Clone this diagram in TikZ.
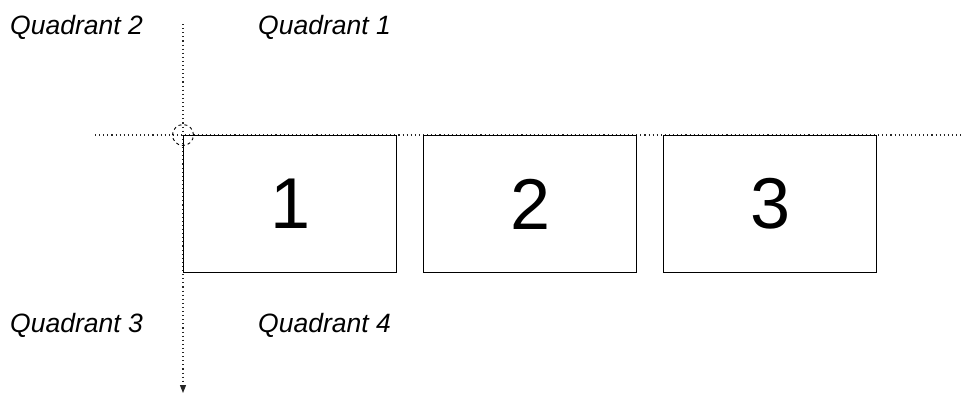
\documentclass[tikz,border=0pt]{standalone}
\usepackage{fontspec}
\setmainfont{Liberation Sans}
\usetikzlibrary{arrows.meta}
\begin{document}
\begin{tikzpicture}[x=1pt,y=-1pt,
  quad/.style={font=\fontsize{26.5}{30}\selectfont\itshape, anchor=base west, inner sep=0pt},
  panel/.style={draw, line width=1.1pt, minimum width=213pt, minimum height=137pt,
    anchor=north west, inner sep=0pt, font=\fontsize{72}{80}\selectfont},
  axis/.style={line width=1.1pt, draw=black!85, dash pattern=on 1.1pt off 3pt}]
\useasboundingbox (0,0) rectangle (963,394);

\coordinate (origin) at (183,135);
\coordinate (xleft) at (95,135);
\coordinate (xright) at (963,135);
\coordinate (ytop) at (183,24);
\coordinate (ybottom) at (183,393);

\draw[axis] (xleft) -- (xright);
\draw[axis, -{Triangle[width=6pt,length=8pt]}] (ytop) -- (ybottom);

\node[panel] (box1) at (183,135) {1};
\node[panel] (box2) at (423,135) {2};
\node[panel] (box3) at (663,135) {3};

\node[draw, dashed, circle, line width=0.9pt, minimum size=21pt, inner sep=0pt] (pin) at (origin) {};

\node[quad] (q2) at (10,34) {Quadrant 2};
\node[quad] (q1) at (258,34) {Quadrant 1};
\node[quad] (q3) at (10,332) {Quadrant 3};
\node[quad] (q4) at (258,332) {Quadrant 4};
\end{tikzpicture}
\end{document}
